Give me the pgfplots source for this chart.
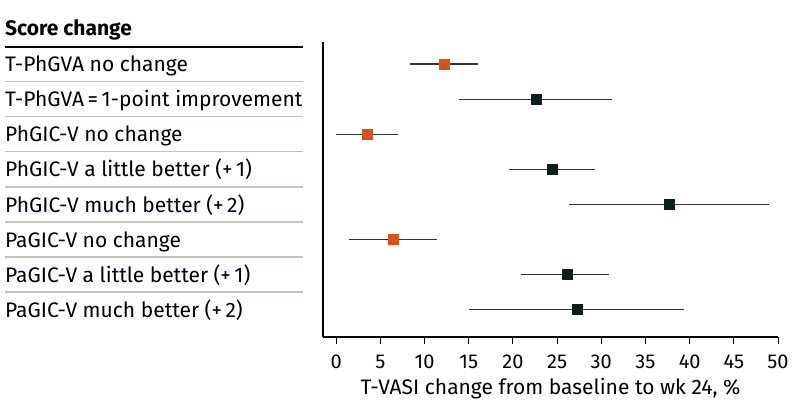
\documentclass[border=0pt]{standalone}
\usepackage{fontspec}
\setmainfont{Fira Sans}
\usepackage{pgfplots}
\pgfplotsset{compat=1.18}
\definecolor{orng}{RGB}{214,84,22}
\definecolor{dark}{RGB}{14,30,30}
\definecolor{sep}{RGB}{196,196,182}
\begin{document}
\fontsize{21bp}{24bp}\selectfont
\begin{tikzpicture}
\begin{axis}[
 at={(0,0)}, anchor=south west,
 scale only axis, width=455bp, height=295bp,
 xmin=-1.5, xmax=50, ymin=0.373, ymax=8.78, y dir=reverse,
 axis x line*=bottom, axis y line*=left,
 axis line style={line width=1.3bp, black, -},
 xtick={0,5,...,50}, ytick=\empty,
 tick align=outside, major tick length=7bp,
 tick style={line width=1bp, black},
 xticklabel style={font=\fontsize{20bp}{23bp}\selectfont, yshift=-4bp},
 /pgf/number format/assume math mode=true,
 xlabel={T-VASI change from baseline to wk 24, \%},
 xlabel style={font=\fontsize{21bp}{24bp}\selectfont, yshift=5bp},
 clip=false,
]
\addplot[only marks, mark=square*, mark size=5bp, orng,
  error bars/.cd, x dir=both, x explicit,
  error bar style={line width=1.1bp, black!80}, error mark=none]
  coordinates {
  (12.2,1) += (3.9,0) -= (3.9,0)
  (3.5,3) += (3.5,0) -= (3.5,0)
  (6.4,6) += (5.0,0) -= (5.0,0)
  };
\addplot[only marks, mark=square*, mark size=5bp, dark,
  error bars/.cd, x dir=both, x explicit,
  error bar style={line width=1.1bp, black!80}, error mark=none]
  coordinates {
  (22.6,2) += (8.6,0) -= (8.65,0)
  (24.4,4) += (4.9,0) -= (4.9,0)
  (37.7,5) += (11.3,0) -= (11.3,0)
  (26.1,7) += (4.8,0) -= (5.2,0)
  (27.3,8) += (12.1,0) -= (12.3,0)
  };
\node[anchor=base west, inner sep=0pt, font=\bfseries] at (axis cs:-37.5,0.174) {Score change};
\draw[line width=1.8bp, black] (axis cs:-37.5,0.516) -- (axis cs:-3.76,0.516);
\pgfplotsinvokeforeach{1,...,7}{
  \draw[line width=1.5bp, sep] (axis cs:-37.5,#1.5) -- (axis cs:-3.76,#1.5);
}
\node[anchor=base west, inner sep=0pt] at (axis cs:-37.5,1.22) {T-PhGVA no change};
\node[anchor=base west, inner sep=0pt] at (axis cs:-37.5,2.22) {T-PhGVA\,=\,1-point improvement};
\node[anchor=base west, inner sep=0pt] at (axis cs:-37.5,3.22) {PhGIC-V no change};
\node[anchor=base west, inner sep=0pt] at (axis cs:-37.5,4.22) {PhGIC-V a little better (+\,1)};
\node[anchor=base west, inner sep=0pt] at (axis cs:-37.5,5.22) {PhGIC-V much better (+\,2)};
\node[anchor=base west, inner sep=0pt] at (axis cs:-37.5,6.22) {PaGIC-V no change};
\node[anchor=base west, inner sep=0pt] at (axis cs:-37.5,7.22) {PaGIC-V a little better (+\,1)};
\node[anchor=base west, inner sep=0pt] at (axis cs:-37.5,8.22) {PaGIC-V much better (+\,2)};
\end{axis}
\pgfresetboundingbox
\path (-323bp,-83bp) rectangle (471bp,337bp);
\end{tikzpicture}
\end{document}
